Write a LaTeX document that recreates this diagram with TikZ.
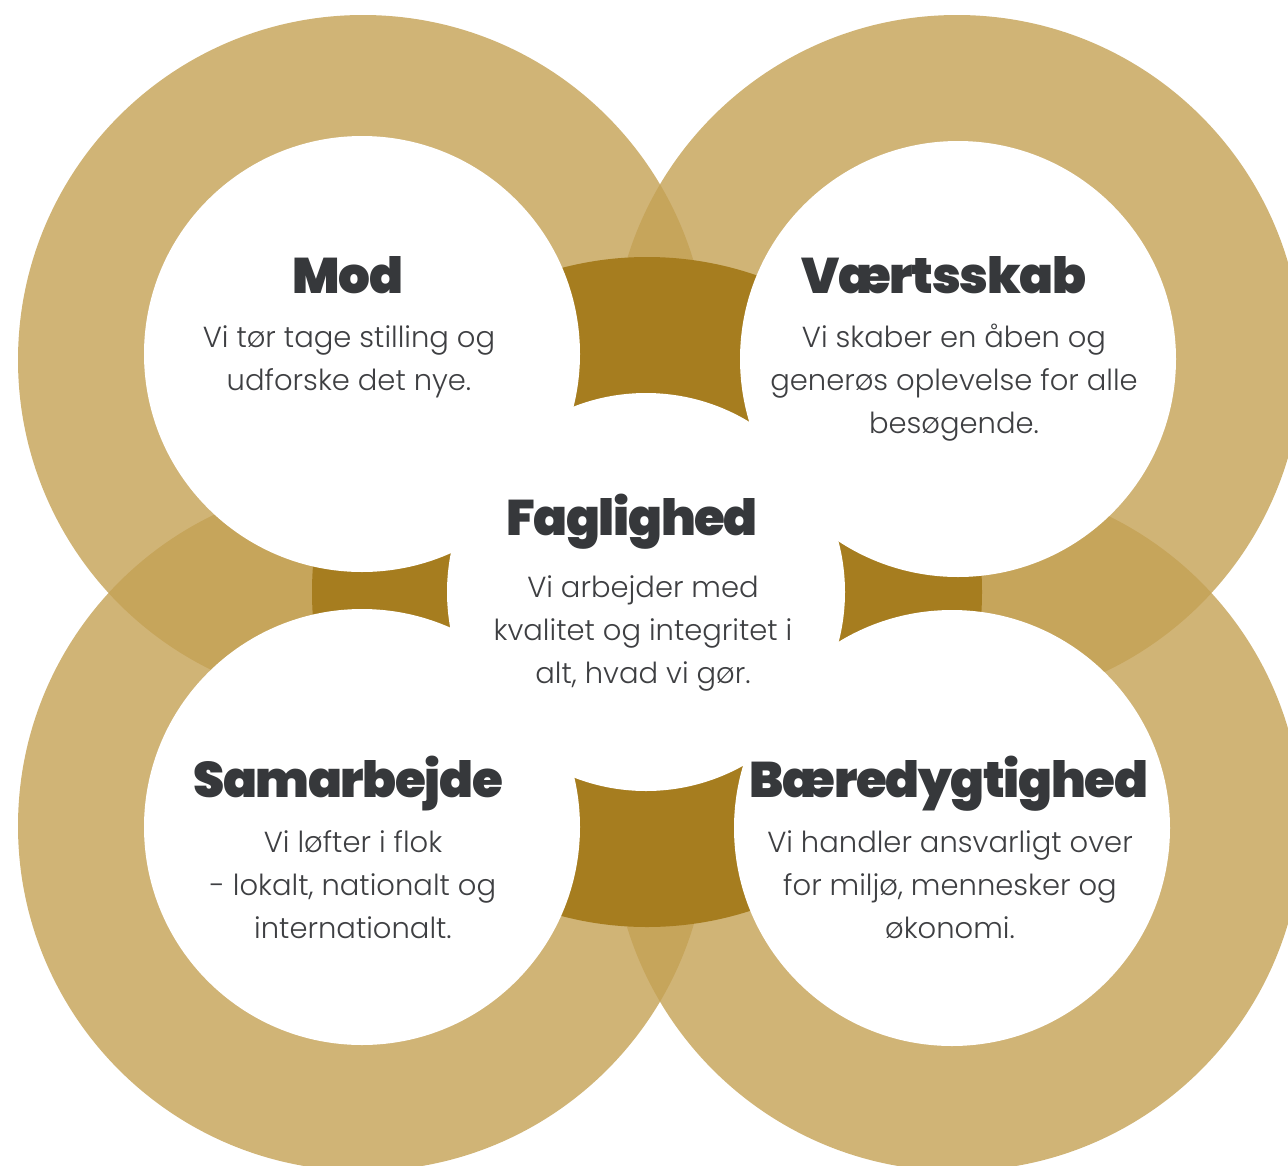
\documentclass[tikz,border=0pt]{standalone}
\usepackage{fontspec}
\newfontfamily\headfont{Poppins Black}[LetterSpace = -2.7]
\newfontfamily\bodyfont{Poppins Light}
\usetikzlibrary{positioning}
\definecolor{ringtan}{RGB}{196,161,84}
\definecolor{coregold}{RGB}{166,125,31}
\definecolor{headgray}{RGB}{54,56,59}
\definecolor{bodygray}{RGB}{62,63,66}

\tikzstyle{ring} = [fill = ringtan, fill opacity = 0.8]
\tikzstyle{core} = [fill = coregold]
\tikzstyle{hole} = [fill = white]
\tikzstyle{heading} = [
    anchor = base,
    inner sep = 0pt,
    text = headgray,
    font = \headfont\fontsize{50}{60}\selectfont
]
\tikzstyle{blurb} = [
    inner sep = 0pt,
    align = center,
    text = bodygray,
    font = \bodyfont\fontsize{29}{43}\selectfont
]

\begin{document}
\begin{tikzpicture}[x = 1pt, y = -1pt]
    \useasboundingbox (0,0) rectangle (1288,1165);
    \clip (0,0) rectangle (1288,1165);

    % four rings
    \fill [ring] (363,360) circle [radius = 345pt];
    \fill [ring] (957,360) circle [radius = 345pt];
    \fill [ring] (363,826) circle [radius = 345pt];
    \fill [ring] (957,826) circle [radius = 345pt];

    % gold core and the white holes
    \fill [core] (647,592) circle [radius = 335pt];
    \fill [hole] (362,354) circle [radius = 218pt];
    \fill [hole] (958,359) circle [radius = 218pt];
    \fill [hole] (362,827) circle [radius = 218pt];
    \fill [hole] (952,828) circle [radius = 218pt];
    \fill [hole] (646,592) circle [radius = 199pt];

    \node (mod) [heading] at (348,293) {Mod};
    \node (mod text) [blurb, below = 24pt of mod.base, xshift = 1pt]
        {\strut Vi tør tage stilling og\\udforske det nye.};

    \node (vaertsskab) [heading] at (944,293) {Værtsskab};
    \node (vaertsskab text) [blurb, below = 24pt of vaertsskab.base, xshift = 10pt]
        {\strut Vi skaber en åben og\\generøs oplevelse for alle\\besøgende.};

    \node (faglighed) [heading] at (632,535) {Faglighed};
    \node (faglighed text) [blurb, below = 32pt of faglighed.base, xshift = 11pt]
        {\strut Vi arbejder med\\kvalitet og integritet i\\alt, hvad vi gør.};

    \node (samarbejde) [heading] at (348,797) {Samarbejde};
    \node (samarbejde text) [blurb, below = 25pt of samarbejde.base, xshift = 5pt]
        {\strut Vi løfter i flok\\- lokalt, nationalt og\\internationalt.};

    \node (baeredygtighed) [heading] at (949,797) {Bæredygtighed};
    \node (baeredygtighed text) [blurb, below = 25pt of baeredygtighed.base, xshift = 1pt]
        {\strut Vi handler ansvarligt over\\for miljø, mennesker og\\økonomi.};
\end{tikzpicture}
\end{document}
